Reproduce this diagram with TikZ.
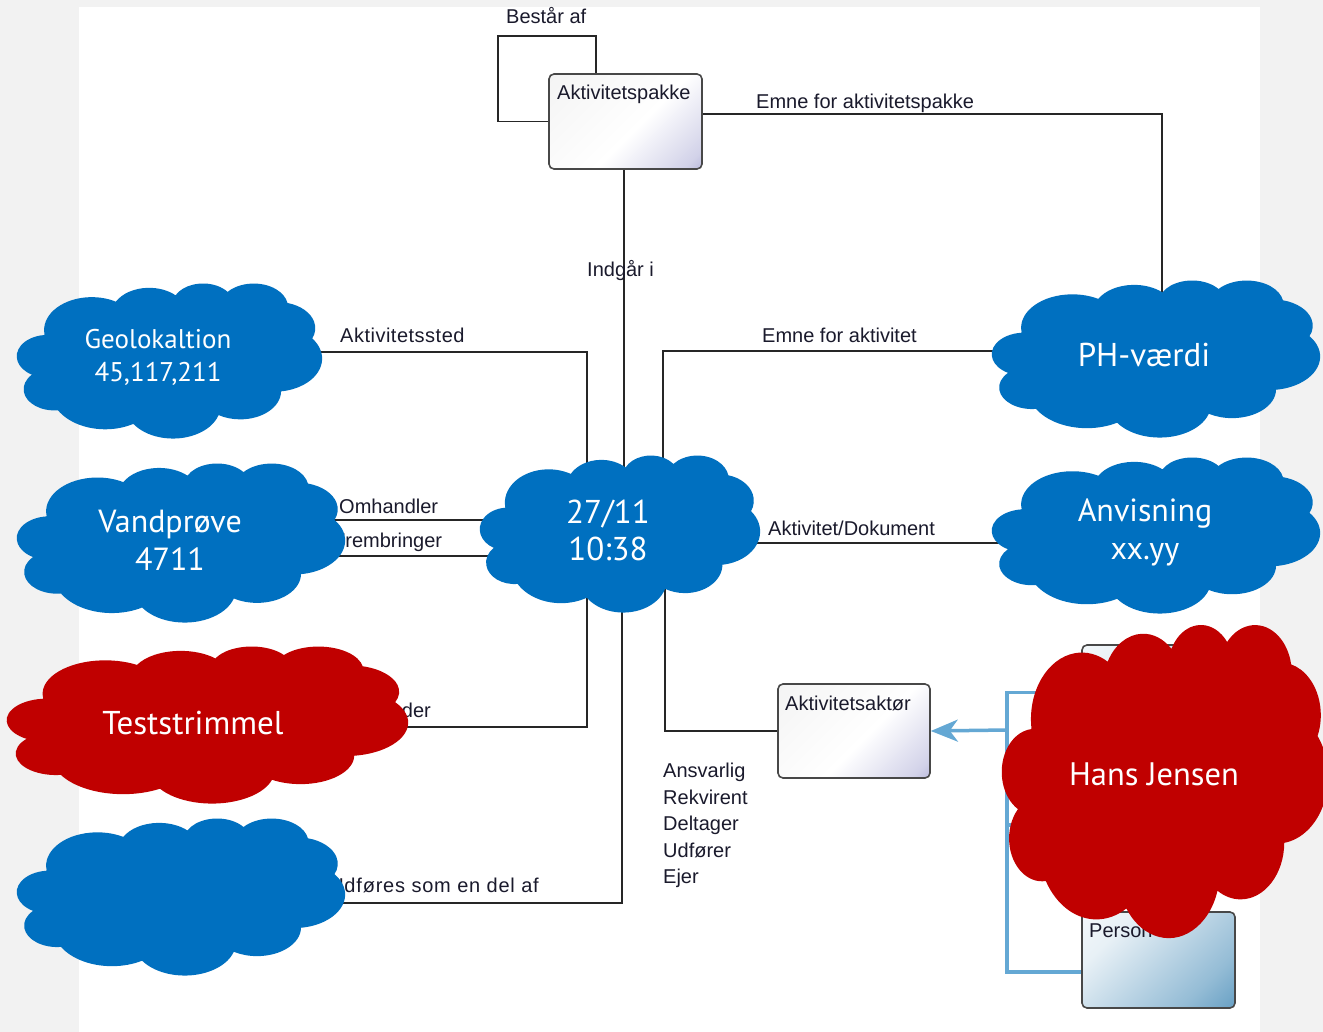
\documentclass[tikz,border=0pt]{standalone}
\usepackage{fontspec}
\setmainfont{Liberation Sans}
\newfontfamily\cloudfont{PT Sans}
\usetikzlibrary{arrows.meta}

\definecolor{pagegray}{HTML}{F2F2F2}
\definecolor{cloudblue}{HTML}{0070C0}
\definecolor{cloudred}{HTML}{C00000}
\definecolor{linkblue}{HTML}{64A8D4}
\definecolor{linkdark}{HTML}{262626}
\definecolor{edgegray}{HTML}{484848}
\definecolor{labelink}{HTML}{1A1A2C}
\definecolor{lavender}{HTML}{8080C0}
\definecolor{steel}{HTML}{3E86B4}

\pgfdeclareverticalshading{classshade}{100bp}{color(0bp)=(lavender); color(20bp)=(lavender!35!white); color(45bp)=(white); color(100bp)=(white!94!black)}
\pgfdeclareverticalshading{personshade}{100bp}{color(0bp)=(steel); color(30bp)=(steel!55!white); color(70bp)=(steel!12!white); color(100bp)=(white)}

\pgfdeclarelayer{back}
\pgfdeclarelayer{links}
\pgfsetlayers{back,links,main}

% cloud outline, built from eleven elliptic arcs in a 432 x 432 box
\newcommand\cloudoutline{(39,143.7)
  arc[start angle=172.25,delta angle=128.12,x radius=67.53,y radius=91.90]
  arc[start angle=-152.03,delta angle=106.57,x radius=53.33,y radius=72.67]
  arc[start angle=-153.49,delta angle=116.17,x radius=43.65,y radius=59.45]
  arc[start angle=-139.71,delta angle=129.50,x radius=48.57,y radius=65.95]
  arc[start angle=-74.77,delta angle=97.98,x radius=53.33,y radius=72.73]
  arc[start angle=-37.52,delta angle=119.38,x radius=67.75,y radius=92.20]
  arc[start angle=0.46,delta angle=121.52,x radius=57.85,y radius=78.67]
  arc[start angle=16.84,delta angle=129.39,x radius=67.52,y radius=92.15]
  arc[start angle=58.98,delta angle=91.20,x radius=77.20,y radius=105.43]
  arc[start angle=83.31,delta angle=139.78,x radius=43.60,y radius=59.18]
  arc[start angle=120.36,delta angle=143.75,x radius=43.45,y radius=59.45]
  -- cycle}
% \cloudat{left}{top}{width}{height}{colour}
\newcommand\cloudat[5]{%
  \begin{scope}[shift={(#1,#2)},xscale=#3/432,yscale=#4/432]
    \fill[#5] \cloudoutline;
  \end{scope}}

\begin{document}
\begin{tikzpicture}[x=1pt,y=1pt,yscale=-1,
  link/.style={draw=linkdark,line width=1.8pt},
  bluelink/.style={draw=linkblue,line width=3.5pt},
  lbl/.style={font=\fontsize{20}{26.5}\selectfont,text=labelink,inner sep=0pt,anchor=base west},
  cloudtext/.style={text=white,align=center,inner sep=0pt,font=\cloudfont\fontsize{32}{38}\selectfont},
  classbox/.style={draw=edgegray,line width=1.6pt,rounded corners=5pt,shading=classshade,shading angle=45,minimum width=153pt,minimum height=95pt,inner sep=0pt},
  personbox/.style={classbox,shading=personshade}]

\useasboundingbox (0,0) rectangle (1323,1032);
\begin{pgfonlayer}{back}
  \fill[pagegray] (0,0) rectangle (1323,1032);
  \fill[white] (79,7) rectangle (1260,1032);
\end{pgfonlayer}

% classes
\node[classbox] (pakke) at (625.5,121.5) {};
\node[classbox,minimum width=152pt,minimum height=94pt] (aktor) at (854,731) {};
\node[personbox] (rolle) at (1158.5,692.5) {};
\node[personbox,minimum height=96pt] (person) at (1158.5,960) {};
\node[lbl] (tPakke) at (557,100) {Aktivitetspakke};
\node[lbl] (tAktor) at (785,710) {Aktivitetsaktør};
\node[lbl] (tPerson) at (1089,937) {Person};

% clouds
\cloudat{17}{283}{305}{155}{cloudblue}
\cloudat{17}{463}{328}{159}{cloudblue}
\cloudat{7}{646}{401}{157}{cloudred}
\cloudat{17}{818}{328}{157}{cloudblue}
\cloudat{480}{455}{280}{157}{cloudblue}
\cloudat{992}{280}{328}{157}{cloudblue}
\cloudat{992}{457}{328}{156}{cloudblue}
\cloudat{1002}{624}{326}{313}{cloudred}

\node[cloudtext,font=\cloudfont\fontsize{27}{33}\selectfont] (geo) at (158,357) {Geolokaltion\\45,117,211};
\node[cloudtext] (vand) at (170,540) {Vandprøve\\4711};
\node[cloudtext,font=\cloudfont\fontsize{33}{38}\selectfont] (test) at (193,723) {Teststrimmel};
\node[cloudtext] (helhed) at (181,897) {};
\node[cloudtext,font=\cloudfont\fontsize{33}{37}\selectfont] (tid) at (608,530) {27/11\\10:38};
\node[cloudtext,font=\cloudfont\fontsize{33}{38}\selectfont] (ph) at (1144,355) {PH-værdi};
\node[cloudtext] (anv) at (1145,532) {Anvisning\\xx.yy};
\node[cloudtext,font=\cloudfont\fontsize{32.5}{38}\selectfont] (hans) at (1154,774) {Hans Jensen};

% associations and their names (shifts are in the downward y of this picture)
\begin{pgfonlayer}{links}
  \coordinate (loop) at (498,36);
  \draw[link] ([xshift=-29.5pt]pakke.north) |- (loop) |- (pakke.west);
  \draw[link] ([yshift=-7.5pt]pakke.east) -| ([xshift=18pt]ph.north);
  \draw[link] ([xshift=-1.5pt]pakke.south) -- ([xshift=-1.5pt]pakke.south |- tid.center);
  \draw[link] ([yshift=-5pt]geo.center) -| ([xshift=-21pt]tid.center);
  \draw[link] ([yshift=-4pt]ph.center) -| ([xshift=55pt]tid.center);
  \draw[link] ([yshift=-20pt]vand.center) -- ([yshift=-20pt]vand.center -| tid.center);
  \draw[link] ([yshift=16pt]vand.center) -- ([yshift=16pt]vand.center -| tid.center);
  \draw[link] ([yshift=13pt]tid.center) -- ([yshift=13pt]tid.center -| anv.center);
  \draw[link] ([yshift=4pt]test.center) -| ([xshift=-21pt]tid.center);
  \draw[link] ([yshift=6pt]helhed.center) -| ([xshift=14pt]tid.center);
  \draw[link] ([xshift=57pt]tid.center) |- (aktor.west);

  \coordinate (bk) at (1007,730);
  \coordinate (bm) at (1007,825);
  \draw[bluelink] (rolle.west) -| (bk) |- ([yshift=12pt]person.west);
  \draw[bluelink] (bm) -- (bm -| person.west);
  \draw[bluelink,-{Stealth[length=27pt,width=22pt,inset=8pt]}] (bk) -- (aktor.east);

  \node[lbl] (lBestaar) at (506,24) {Består af};
  \node[lbl] (lEmnePakke) at (756,109) {Emne for aktivitetspakke};
  \node[lbl] (lIndgaar) at (587,277) {Indgår i};
  \node[lbl,font={\fontsize{20}{26.5}\selectfont\addfontfeature{LetterSpace=2.5}}] (lSted) at (340,343) {Aktivitetssted};
  \node[lbl] (lEmne) at (762,343) {Emne for aktivitet};
  \node[lbl] (lOm) at (339,513) {Omhandler};
  \node[lbl] (lFrem) at (333,547) {Frembringer};
  \node[lbl] (lDok) at (768,535) {Aktivitet/Dokument};
  \node[lbl,anchor=base east] (lAnv) at (431,717) {Anvender};
  \node[lbl,anchor=base east,font={\fontsize{20}{26.5}\selectfont\addfontfeature{LetterSpace=4}}] (lDel) at (539,892) {Udføres som en del af};
  \node[lbl,anchor=north west,align=left] (lRoller) at (663,763) {Ansvarlig\\Rekvirent\\Deltager\\Udfører\\Ejer};
\end{pgfonlayer}
\end{tikzpicture}
\end{document}
